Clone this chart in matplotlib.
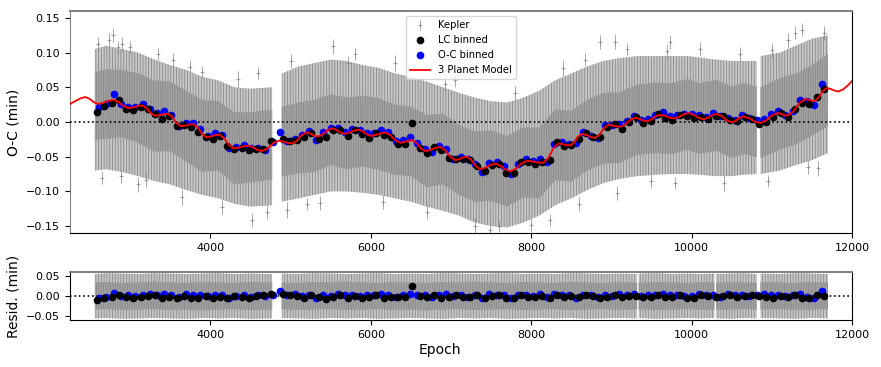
import matplotlib
matplotlib.use('Agg')
import matplotlib.pyplot as plt
import numpy as np

# 3 planet model curve (epoch, O-C in min)
model_epoch = [2250, 2330, 2390, 2440, 2493, 2547, 2600, 2663, 2727, 2790, 2853, 2917, 2980, 3037, 3093, 3150,
               3203, 3257, 3310, 3363, 3417, 3470, 3523, 3577, 3630, 3683, 3737, 3790, 3843, 3897, 3950, 4003,
               4057, 4110, 4170, 4230, 4290, 4350, 4410, 4470, 4527, 4583, 4640, 4710, 4780, 4850, 4907, 4963,
               5020, 5079, 5137, 5196, 5244, 5292, 5340, 5399, 5457, 5516, 5567, 5619, 5670, 5729, 5789, 5848,
               5899, 5949, 6000, 6060, 6121, 6181, 6243, 6305, 6367, 6416, 6464, 6513, 6569, 6624, 6680, 6742,
               6804, 6866, 6928, 6991, 7053, 7101, 7150, 7198, 7253, 7309, 7364, 7426, 7489, 7551, 7613, 7676,
               7738, 7809, 7879, 7950, 8017, 8083, 8150, 8213, 8277, 8340, 8389, 8437, 8486, 8534, 8583, 8631,
               8686, 8742, 8797, 8852, 8908, 8963, 9012, 9060, 9109, 9171, 9234, 9296, 9344, 9393, 9441, 9496,
               9552, 9607, 9665, 9722, 9780, 9840, 9900, 9960, 10022, 10085, 10147, 10202, 10258, 10313, 10375,
               10438, 10500, 10548, 10597, 10645, 10714, 10784, 10853, 10928, 11002, 11077, 11115, 11152, 11190,
               11267, 11343, 11420, 11457, 11493, 11530, 11581, 11633, 11684, 11732, 11781, 11829, 11890, 11950,
               12000]
model_oc = [0.026, 0.031, 0.0345, 0.036, 0.0335, 0.0285, 0.026, 0.0275, 0.0305, 0.032, 0.029, 0.023, 0.020,
            0.021, 0.023, 0.024, 0.0203, 0.0128, 0.009, 0.0098, 0.0113, 0.012, 0.0075, -0.0015, -0.006, -0.0053,
            -0.0038, -0.003, -0.0078, -0.0173, -0.022, -0.021, -0.019, -0.018, -0.023, -0.033, -0.038, -0.037,
            -0.035, -0.034, -0.036, -0.040, -0.042, -0.0383, -0.0308, -0.027, -0.028, -0.030, -0.031, -0.027,
            -0.019, -0.015, -0.0165, -0.0195, -0.021, -0.018, -0.012, -0.009, -0.011, -0.015, -0.017, -0.0155,
            -0.0125, -0.011, -0.0133, -0.0178, -0.020, -0.0188, -0.0163, -0.015, -0.0188, -0.0263, -0.030, -0.029,
            -0.027, -0.026, -0.030, -0.038, -0.042, -0.0405, -0.0375, -0.036, -0.0408, -0.0503, -0.055, -0.0538,
            -0.0513, -0.050, -0.0545, -0.0635, -0.068, -0.066, -0.062, -0.060, -0.0628, -0.0683, -0.071, -0.0673,
            -0.0598, -0.056, -0.0568, -0.0583, -0.059, -0.052, -0.038, -0.031, -0.0318, -0.0333, -0.034, -0.0298,
            -0.0213, -0.017, -0.0185, -0.0215, -0.023, -0.0183, -0.0088, -0.004, -0.0048, -0.0063, -0.007, -0.0038,
            0.0028, 0.006, 0.0048, 0.0023, 0.001, 0.0034, 0.0081, 0.0105, 0.0091, 0.0064, 0.005, 0.007, 0.011,
            0.013, 0.0108, 0.0063, 0.004, 0.0059, 0.0097, 0.0116, 0.0086, 0.0025, -0.0006, 0.0016, 0.0059, 0.008,
            0.0056, 0.0009, -0.0015, 0.0021, 0.0094, 0.013, 0.012, 0.010, 0.009, 0.015, 0.027, 0.033, 0.0323,
            0.0308, 0.030, 0.0348, 0.0443, 0.049, 0.0478, 0.0453, 0.044, 0.047, 0.053, 0.059]

# LC binned points
lc_epoch = [2590, 2680, 2770, 2860, 2950, 3040, 3130, 3220, 3310, 3400, 3490, 3580, 3670, 3760, 3850, 3940,
            4030, 4120, 4210, 4300, 4390, 4480, 4570, 4660, 4750,
            4900, 4990, 5080, 5170, 5260, 5350, 5440, 5530, 5620, 5710, 5800, 5890, 5980, 6070, 6160, 6250,
            6340, 6430, 6520, 6610, 6700, 6790, 6880, 6970, 7060, 7150, 7240, 7330, 7420, 7510, 7600, 7690,
            7780, 7870, 7960, 8050, 8140, 8230, 8320, 8410, 8500, 8590, 8680, 8770, 8860, 8950, 9040, 9130,
            9220, 9310, 9400, 9490, 9580, 9670, 9760, 9850, 9940, 10030, 10120, 10210, 10300, 10390, 10480,
            10570, 10660, 10750, 10840, 10930, 11020, 11110, 11200, 11290, 11380, 11470, 11560, 11650]
lc_oc = [0.015, 0.023, 0.028, 0.032, 0.019, 0.017, 0.0215, 0.019, 0.011, 0.005, 0.009, -0.006, -0.0045,
         -0.0075, -0.015, -0.022, -0.025, -0.020, -0.034, -0.039, -0.037, -0.040, -0.039, -0.039, -0.027,
         -0.024, -0.028, -0.026, -0.022, -0.0155, -0.024, -0.021, -0.011, -0.012, -0.020, -0.011, -0.017,
         -0.023, -0.016, -0.019, -0.021, -0.031, -0.031, -0.001, -0.037, -0.044, -0.036, -0.040, -0.052,
         -0.053, -0.054, -0.055, -0.063, -0.070, -0.062, -0.060, -0.074, -0.073, -0.058, -0.058, -0.060,
         -0.058, -0.055, -0.029, -0.034, -0.033, -0.024, -0.016, -0.022, -0.022, -0.007, -0.0025, -0.0095,
         0.0005, 0.007, -0.001, 0.001, 0.011, 0.006, 0.0035, 0.010, 0.009, 0.006, 0.007, 0.005, 0.0085,
         0.008, 0.003, 0.001, 0.0068, 0.005, -0.0024, 0.000, 0.007, 0.013, 0.0065, 0.019, 0.027, 0.026,
         0.036, 0.048]
lc_res = [-0.011, -0.005, -0.003, 0.003, -0.003, -0.004, -0.002, 0.000, 0.002, -0.006, -0.002, -0.004,
          0.001, -0.004, -0.006, 0.000, -0.005, -0.002, -0.004, -0.001, -0.002, -0.006, 0.001, 0.002, 0.006,
          0.004, 0.003, 0.001, -0.006, 0.002, -0.003, -0.008, -0.002, 0.003, -0.004, 0.001, -0.004, -0.003,
          0.002, -0.004, -0.002, -0.002, -0.003, 0.025, -0.001, -0.002, 0.002, -0.004, -0.003, 0.002, -0.003,
          -0.002, 0.003, -0.004, -0.001, 0.002, -0.005, -0.004, 0.002, -0.002, -0.003, 0.001, -0.004, 0.003,
          -0.002, 0.000, -0.003, 0.002, 0.000, -0.004, -0.002, 0.003, -0.003, -0.001, 0.001, -0.003, -0.002,
          0.002, -0.003, -0.002, 0.003, -0.004, -0.004, 0.002, -0.001, -0.003, 0.000, 0.003, -0.002, -0.001,
          0.002, -0.001, -0.002, -0.004, 0.001, -0.003, 0.002, -0.004, -0.006, 0.003, 0.001]

# O-C binned points
oc_epoch = [2615, 2705, 2795, 2885, 2975, 3065, 3155, 3245, 3335, 3425, 3515, 3605, 3695, 3785, 3875, 3965,
            4055, 4145, 4235, 4325, 4415, 4505, 4595, 4685, 4775,
            4870, 4960, 5050, 5140, 5230, 5320, 5410, 5500, 5590, 5680, 5770, 5860, 5950, 6040, 6130, 6220,
            6310, 6400, 6490, 6580, 6670, 6760, 6850, 6940, 7030, 7120, 7210, 7300, 7390, 7480, 7570, 7660,
            7750, 7840, 7930, 8020, 8110, 8200, 8290, 8380, 8470, 8560, 8650, 8740, 8830, 8920, 9010, 9100,
            9190, 9280, 9370, 9460, 9550, 9640, 9730, 9820, 9910, 10000, 10090, 10180, 10270, 10360, 10450,
            10540, 10630, 10720, 10810, 10900, 10990, 11080, 11170, 11260, 11350, 11440, 11530, 11620]
oc_oc = [0.022, 0.026, 0.040, 0.026, 0.022, 0.022, 0.026, 0.019, 0.0125, 0.0165, 0.010, -0.006, -0.001,
         -0.001, -0.010, -0.0205, -0.016, -0.019, -0.037, -0.0365, -0.033, -0.037, -0.0375, -0.041, -0.029,
         -0.015, -0.028, -0.025, -0.019, -0.013, -0.0255, -0.014, -0.009, -0.009, -0.015, -0.010, -0.011,
         -0.016, -0.016, -0.012, -0.0145, -0.028, -0.026, -0.021, -0.030, -0.039, -0.043, -0.034, -0.039,
         -0.054, -0.050, -0.053, -0.060, -0.072, -0.0585, -0.058, -0.064, -0.075, -0.061, -0.053, -0.056,
         -0.054, -0.058, -0.032, -0.0295, -0.031, -0.030, -0.014, -0.0195, -0.023, -0.005, -0.004, -0.003,
         0.001, 0.009, 0.0035, 0.005, 0.010, 0.0138, 0.0083, 0.0095, 0.012, 0.012, 0.010, 0.007, 0.013,
         0.008, 0.006, 0.0033, 0.0105, 0.0054, 0.0025, 0.0045, 0.011, 0.016, 0.0105, 0.016, 0.031, 0.0298,
         0.025, 0.055]
oc_res = [-0.004, -0.003, 0.008, 0.000, 0.002, 0.000, 0.002, 0.004, 0.003, 0.005, 0.002, -0.002, 0.004,
          0.002, 0.003, 0.001, 0.003, 0.002, -0.004, 0.001, 0.002, -0.002, 0.003, 0.000, 0.002,
          0.012, 0.002, 0.004, 0.000, 0.003, -0.005, 0.002, 0.001, 0.004, 0.002, 0.003, 0.000, 0.002, 0.003,
          0.004, 0.002, -0.002, 0.003, 0.005, 0.002, 0.003, -0.003, 0.002, 0.004, 0.001, 0.003, -0.002, 0.003,
          -0.005, 0.004, 0.002, 0.003, -0.004, 0.002, 0.003, 0.001, 0.004, -0.003, 0.004, 0.002, 0.003,
          -0.004, 0.003, 0.002, -0.002, 0.003, 0.001, 0.004, 0.002, 0.004, 0.000, 0.003, 0.002, 0.004, 0.002,
          0.003, 0.001, 0.000, 0.004, 0.002, 0.003, -0.002, 0.004, 0.002, 0.003, 0.000, 0.002, 0.004, 0.002,
          0.003, 0.001, 0.002, 0.004, -0.003, -0.005, 0.012]

# Kepler transit timings: spread of the dense cloud (nan = gap in the data)
nan = np.nan
band_epoch = [2560, 2700, 2900, 3100, 3300, 3500, 3700, 3900, 4100, 4300, 4500, 4770, 4830, 4890, 5100,
              5300, 5500, 5700, 5900, 6100, 6300, 6500, 6700, 6900, 7100, 7300, 7500, 7700, 7900, 8100, 8300,
              8500, 8700, 8900, 9100, 9320, 9330, 9340, 9550, 9750, 9950, 10100, 10285, 10295, 10305, 10500,
              10650, 10810, 10835, 10860, 11100, 11300, 11500, 11700]
kep_outer_hi = [0.105, 0.110, 0.105, 0.100, 0.090, 0.082, 0.075, 0.065, 0.060, 0.050, 0.048, 0.050, nan,
                0.070, 0.080, 0.085, 0.090, 0.088, 0.082, 0.078, 0.070, 0.065, 0.058, 0.050, 0.042, 0.035,
                0.030, 0.028, 0.035, 0.045, 0.060, 0.070, 0.080, 0.088, 0.092, 0.095, 0.095, 0.095, 0.095,
                0.095, 0.095, 0.093, 0.090, 0.090, 0.090, 0.088, 0.088, 0.088, nan, 0.095, 0.100, 0.110,
                0.120, 0.125]
kep_outer_lo = [-0.070, -0.068, -0.072, -0.078, -0.085, -0.090, -0.098, -0.105, -0.110, -0.118, -0.122,
                -0.120, nan, -0.115, -0.110, -0.105, -0.100, -0.100, -0.102, -0.105, -0.110, -0.115, -0.122,
                -0.128, -0.135, -0.145, -0.150, -0.152, -0.145, -0.135, -0.120, -0.110, -0.098, -0.088,
                -0.082, -0.078, -0.078, -0.078, -0.076, -0.075, -0.075, -0.076, -0.078, -0.078, -0.078,
                -0.078, -0.076, -0.075, nan, -0.075, -0.070, -0.062, -0.055, -0.045]
kep_inner_hi = [0.072, 0.076, 0.075, 0.070, 0.060, 0.058, 0.045, 0.032, 0.030, 0.014, 0.014, 0.018, nan,
                0.022, 0.028, 0.032, 0.040, 0.035, 0.038, 0.034, 0.025, 0.022, 0.010, 0.012, -0.004, -0.014,
                -0.012, -0.020, -0.008, -0.008, 0.018, 0.016, 0.032, 0.042, 0.043, 0.054, 0.054, 0.054,
                0.057, 0.056, 0.062, 0.056, 0.060, 0.060, 0.061, 0.051, 0.056, 0.051, nan, 0.050, 0.063,
                0.070, 0.082, 0.098]
kep_inner_lo = [-0.026, -0.024, -0.022, -0.030, -0.043, -0.042, -0.057, -0.072, -0.070, -0.090, -0.087,
                -0.083, nan, -0.079, -0.074, -0.072, -0.062, -0.068, -0.064, -0.069, -0.076, -0.078, -0.094,
                -0.090, -0.105, -0.115, -0.114, -0.122, -0.109, -0.110, -0.084, -0.086, -0.070, -0.060,
                -0.059, -0.047, -0.047, -0.047, -0.045, -0.046, -0.040, -0.046, -0.042, -0.042, -0.041,
                -0.052, -0.046, -0.051, nan, -0.052, -0.040, -0.032, -0.020, -0.006]
res_outer_hi = [0.055, 0.057, 0.056, 0.055, 0.057, 0.056, 0.055, 0.056, 0.057, 0.055, 0.056, 0.055, nan,
                0.056, 0.055, 0.057, 0.056, 0.055, 0.056, 0.057, 0.055, 0.056, 0.055, 0.057, 0.056, 0.055,
                0.056, 0.057, 0.055, 0.056, 0.055, 0.057, 0.056, 0.055, 0.056, 0.055, nan, 0.056, 0.057,
                0.055, 0.056, 0.055, 0.056, nan, 0.055, 0.056, 0.057, 0.055, nan, 0.056, 0.055, 0.057, 0.056,
                0.055]
res_outer_lo = [-0.056, -0.055, -0.057, -0.056, -0.055, -0.056, -0.057, -0.055, -0.056, -0.055, -0.057,
                -0.056, nan, -0.055, -0.056, -0.057, -0.055, -0.056, -0.055, -0.057, -0.056, -0.055, -0.056,
                -0.057, -0.055, -0.056, -0.055, -0.057, -0.056, -0.055, -0.056, -0.055, -0.057, -0.056,
                -0.055, -0.056, nan, -0.055, -0.057, -0.056, -0.055, -0.056, -0.055, nan, -0.056, -0.057,
                -0.055, -0.056, nan, -0.055, -0.056, -0.057, -0.055, -0.056]
res_inner_hi = [0.034, 0.035, 0.033, 0.034, 0.036, 0.034, 0.033, 0.035, 0.034, 0.033, 0.035, 0.034, nan,
                0.034, 0.033, 0.035, 0.034, 0.036, 0.034, 0.033, 0.035, 0.034, 0.033, 0.035, 0.034, 0.036,
                0.034, 0.033, 0.035, 0.034, 0.033, 0.035, 0.034, 0.033, 0.035, 0.034, nan, 0.033, 0.035,
                0.034, 0.033, 0.035, 0.034, nan, 0.033, 0.035, 0.034, 0.033, nan, 0.035, 0.034, 0.033, 0.035,
                0.034]
res_inner_lo = [-0.034, -0.033, -0.035, -0.034, -0.033, -0.035, -0.034, -0.036, -0.034, -0.033, -0.035,
                -0.034, nan, -0.033, -0.035, -0.034, -0.033, -0.035, -0.034, -0.033, -0.035, -0.034, -0.036,
                -0.034, -0.033, -0.035, -0.034, -0.033, -0.035, -0.034, -0.033, -0.035, -0.034, -0.033,
                -0.035, -0.034, nan, -0.033, -0.035, -0.034, -0.033, -0.035, -0.034, nan, -0.035, -0.034,
                -0.033, -0.035, nan, -0.034, -0.033, -0.035, -0.034, -0.033]

# Kepler timings lying at or outside the edge of the dense cloud
kep_epoch = [2600, 2650, 2740, 2790, 2850, 2880, 2900, 3000, 3100, 3200, 3350, 3540, 3650, 3750, 3900,
             4150, 4350, 4520, 4600, 4700, 4960, 5000, 5200, 5370, 5535, 5720, 5800, 6150, 6300, 6700,
             6930, 7050, 7300, 7490, 7600, 7800, 8000, 8236, 8400, 8600, 8673, 8860, 9046, 9067, 9200,
             9500, 9690, 9733, 9794, 10100, 10400, 10600, 10950, 11000, 11200, 11289, 11373, 11455, 11580,
             11650]
kep_oc = [0.112, -0.080, 0.118, 0.125, 0.108, -0.078, 0.112, 0.108, -0.090, -0.084, 0.098, 0.090, -0.108,
          0.080, 0.072, -0.122, 0.062, -0.141, 0.071, -0.130, -0.127, 0.088, -0.118, -0.117, 0.109, 0.085,
          0.098, -0.115, 0.085, -0.130, 0.055, 0.060, -0.150, -0.155, -0.150, 0.042, -0.148, -0.141, 0.078,
          -0.118, 0.090, 0.115, 0.116, -0.102, 0.105, -0.085, 0.102, 0.115, -0.088, 0.105, -0.088, 0.098,
          -0.085, 0.104, 0.118, 0.129, 0.133, -0.065, -0.067, 0.128]
kep_err = [0.010, 0.009, 0.011, 0.010, 0.009, 0.010, 0.010, 0.009, 0.011, 0.010, 0.009, 0.010, 0.011,
           0.010, 0.009, 0.010, 0.011, 0.010, 0.009, 0.010, 0.011, 0.010, 0.009, 0.010, 0.011, 0.010, 0.009,
           0.010, 0.011, 0.010, 0.010, 0.009, 0.011, 0.010, 0.009, 0.010, 0.010, 0.009, 0.011, 0.010,
           0.009, 0.010, 0.011, 0.010, 0.009, 0.010, 0.011, 0.010, 0.009, 0.010, 0.011, 0.010, 0.009,
           0.010, 0.011, 0.010, 0.009, 0.010, 0.011, 0.010]

plt.rcParams['hatch.linewidth'] = 0.6

fig = plt.figure(figsize=(8.81, 3.67), dpi=100)
ax1 = fig.add_axes([70 / 881, 1 - 233 / 367, 782 / 881, 222 / 367])
ax2 = fig.add_axes([70 / 881, 1 - 320 / 367, 782 / 881, 48 / 367])

outer_col = '#c6c6c6'
inner_col = '#a2a2a2'
hatch_col = '#8a8a8a'

## top panel: O-C
ax1.fill_between(band_epoch, kep_outer_lo, kep_outer_hi, facecolor=outer_col, edgecolor=hatch_col,
                 hatch='||||||', lw=0, zorder=1)
ax1.fill_between(band_epoch, kep_inner_lo, kep_inner_hi, facecolor=inner_col, edgecolor=hatch_col,
                 hatch='|||||||', lw=0, zorder=1)
kep = ax1.errorbar(kep_epoch, kep_oc, yerr=kep_err, fmt='+', ms=3, mew=0.6, elinewidth=0.6,
                   color='gray', alpha=0.8, zorder=2)
ax1.axhline(0, color='k', ls=':', lw=1.2, zorder=3)
blue, = ax1.plot(oc_epoch, oc_oc, 'o', color='b', ms=4.5, zorder=4)
black, = ax1.plot(lc_epoch, lc_oc, 'o', color='k', ms=4.5, zorder=4)
red, = ax1.plot(model_epoch, model_oc, '-', color='r', lw=1.3, zorder=5)

ax1.set_xlim(2250, 12000)
ax1.set_ylim(-0.16, 0.16)
ax1.set_yticks([-0.15, -0.10, -0.05, 0.00, 0.05, 0.10, 0.15])
ax1.set_xticks([4000, 6000, 8000, 10000, 12000])
ax1.set_ylabel('O-C (min)', fontsize=10)
ax1.tick_params(labelsize=8)
ax1.legend([kep, black, blue, red], ['Kepler', 'LC binned', 'O-C binned', '3 Planet Model'],
           loc='upper center', fontsize=7.2)

## bottom panel: residuals
ax2.fill_between(band_epoch, res_outer_lo, res_outer_hi, facecolor=outer_col, edgecolor=hatch_col,
                 hatch='||||||', lw=0, zorder=1)
ax2.fill_between(band_epoch, res_inner_lo, res_inner_hi, facecolor=inner_col, edgecolor=hatch_col,
                 hatch='|||||||', lw=0, zorder=1)
ax2.axhline(0, color='k', ls=':', lw=1.2, zorder=3)
ax2.plot(oc_epoch, oc_res, 'o', color='b', ms=4.5, zorder=4)
ax2.plot(lc_epoch, lc_res, 'o', color='k', ms=4.5, zorder=4)

ax2.set_xlim(2250, 12000)
ax2.set_ylim(-0.06, 0.06)
ax2.set_yticks([-0.05, 0.00, 0.05])
ax2.set_xticks([4000, 6000, 8000, 10000, 12000])
ax2.set_ylabel('Resid. (min)', fontsize=10)
ax2.set_xlabel('Epoch', fontsize=10)
ax2.tick_params(labelsize=8)
ax2.xaxis.set_label_coords((440 - 70) / 782, -0.47)

for ax in (ax1, ax2):
    ax.spines['top'].set_color('#808080')
    ax.spines['top'].set_linewidth(1.4)
ax1.spines['left'].set_color('#808080')

fig.align_ylabels([ax1, ax2])
plt.savefig('out.png', dpi=100)
